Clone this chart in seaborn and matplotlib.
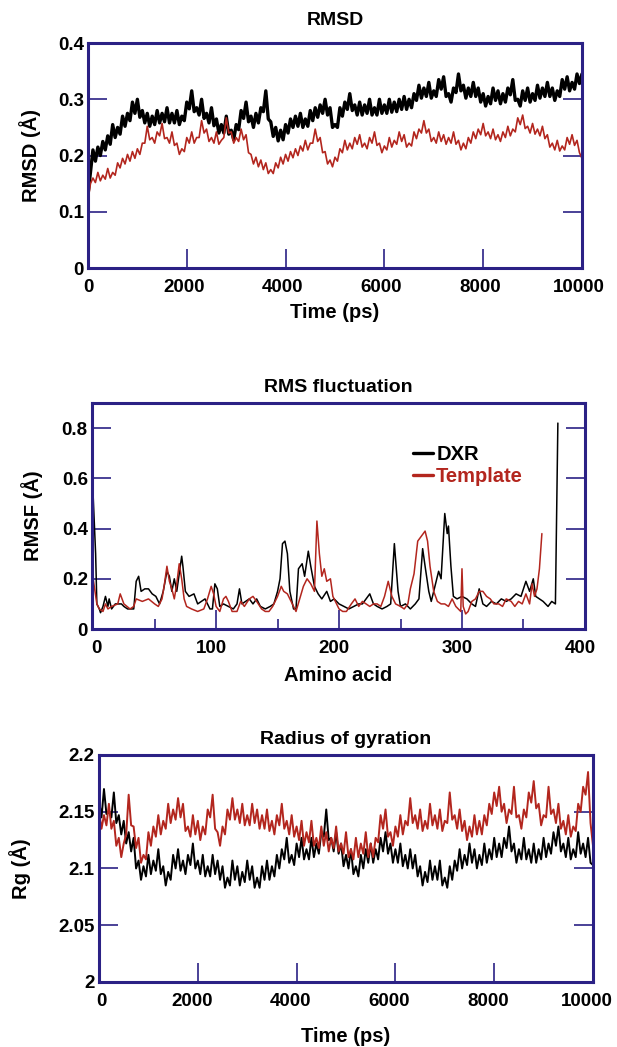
import numpy as np
import pandas as pd
import matplotlib
matplotlib.use("Agg")
import matplotlib.pyplot as plt
import matplotlib.transforms as mtransforms
from matplotlib.ticker import FuncFormatter, MultipleLocator
import seaborn as sns

# ---- time axis for RMSD and Rg (every 50 ps) ----
time_ps = list(range(0, 10001, 50))

# RMSD
rmsd_dxr = [0.13, 0.17, 0.21, 0.19, 0.215, 0.20, 0.225, 0.21, 0.235, 0.22,
            0.255, 0.232, 0.25, 0.238, 0.27, 0.252, 0.275, 0.262, 0.295, 0.275,
            0.30, 0.268, 0.28, 0.258, 0.275, 0.252, 0.27, 0.255, 0.28, 0.258,
            0.275, 0.26, 0.285, 0.258, 0.275, 0.258, 0.28, 0.255, 0.27, 0.262,
            0.295, 0.283, 0.315, 0.278, 0.285, 0.272, 0.30, 0.266, 0.275, 0.258,
            0.285, 0.253, 0.265, 0.24, 0.255, 0.24, 0.27, 0.238, 0.245, 0.228,
            0.255, 0.246, 0.28, 0.266, 0.295, 0.26, 0.27, 0.25, 0.275, 0.258,
            0.285, 0.278, 0.315, 0.265, 0.26, 0.234, 0.25, 0.226, 0.245, 0.228,
            0.255, 0.24, 0.265, 0.25, 0.27, 0.252, 0.275, 0.25, 0.265, 0.252,
            0.28, 0.262, 0.285, 0.268, 0.29, 0.275, 0.30, 0.272, 0.285, 0.25,
            0.255, 0.25, 0.285, 0.27, 0.295, 0.282, 0.31, 0.28, 0.29, 0.272,
            0.295, 0.272, 0.29, 0.275, 0.30, 0.272, 0.285, 0.272, 0.30, 0.275,
            0.29, 0.275, 0.30, 0.277, 0.295, 0.278, 0.30, 0.282, 0.305, 0.282,
            0.30, 0.285, 0.31, 0.298, 0.325, 0.302, 0.32, 0.305, 0.33, 0.302,
            0.315, 0.305, 0.335, 0.318, 0.34, 0.305, 0.31, 0.295, 0.32, 0.312,
            0.345, 0.315, 0.325, 0.302, 0.32, 0.305, 0.33, 0.305, 0.32, 0.295,
            0.31, 0.288, 0.305, 0.292, 0.32, 0.298, 0.315, 0.292, 0.31, 0.295,
            0.32, 0.308, 0.335, 0.298, 0.30, 0.288, 0.315, 0.298, 0.32, 0.295,
            0.31, 0.298, 0.325, 0.302, 0.32, 0.305, 0.33, 0.305, 0.32, 0.298,
            0.315, 0.305, 0.335, 0.318, 0.34, 0.315, 0.33, 0.318, 0.345, 0.328,
            0.345]
rmsd_template = [0.12, 0.15, 0.16, 0.152, 0.17, 0.155, 0.165, 0.158, 0.177, 0.16,
                 0.17, 0.165, 0.187, 0.178, 0.195, 0.185, 0.202, 0.19, 0.207, 0.195,
                 0.212, 0.202, 0.222, 0.222, 0.252, 0.228, 0.232, 0.222, 0.242, 0.235,
                 0.257, 0.23, 0.232, 0.222, 0.242, 0.218, 0.222, 0.202, 0.212, 0.207,
                 0.232, 0.222, 0.242, 0.222, 0.232, 0.232, 0.262, 0.24, 0.247, 0.225,
                 0.232, 0.222, 0.242, 0.22, 0.227, 0.232, 0.267, 0.24, 0.242, 0.222,
                 0.232, 0.225, 0.247, 0.228, 0.237, 0.205, 0.202, 0.185, 0.197, 0.18,
                 0.192, 0.175, 0.187, 0.168, 0.175, 0.168, 0.187, 0.178, 0.197, 0.185,
                 0.202, 0.19, 0.207, 0.196, 0.212, 0.20, 0.217, 0.208, 0.227, 0.21,
                 0.222, 0.222, 0.247, 0.225, 0.232, 0.205, 0.207, 0.185, 0.192, 0.18,
                 0.197, 0.19, 0.212, 0.205, 0.227, 0.21, 0.222, 0.212, 0.232, 0.22,
                 0.237, 0.215, 0.222, 0.212, 0.232, 0.222, 0.242, 0.218, 0.222, 0.205,
                 0.217, 0.21, 0.232, 0.215, 0.227, 0.22, 0.242, 0.225, 0.237, 0.215,
                 0.222, 0.217, 0.242, 0.23, 0.247, 0.24, 0.262, 0.24, 0.247, 0.225,
                 0.232, 0.222, 0.242, 0.225, 0.237, 0.22, 0.232, 0.222, 0.242, 0.22,
                 0.227, 0.21, 0.222, 0.212, 0.232, 0.222, 0.242, 0.23, 0.247, 0.237,
                 0.257, 0.235, 0.242, 0.23, 0.247, 0.228, 0.237, 0.225, 0.242, 0.232,
                 0.252, 0.235, 0.247, 0.242, 0.267, 0.255, 0.272, 0.248, 0.252, 0.24,
                 0.257, 0.238, 0.247, 0.235, 0.252, 0.23, 0.237, 0.215, 0.222, 0.21,
                 0.227, 0.208, 0.217, 0.21, 0.232, 0.22, 0.237, 0.218, 0.227, 0.205,
                 0.195]

# ---- RMSF per residue ----
res_dxr = [0, 2, 3, 5, 6, 8, 10, 12, 13, 15,
           18, 20, 23, 25, 28, 30, 33, 35, 37, 39,
           42, 45, 48, 51, 54, 57, 60, 62, 64, 66,
           68, 70, 72, 73, 75, 78, 82, 85, 88, 91,
           95, 97, 99, 101, 103, 106, 110, 114, 117, 119,
           121, 124, 127, 130, 133, 136, 140, 144, 147, 150,
           152, 154, 156, 158, 160, 163, 165, 167, 170, 172,
           175, 177, 180, 183, 186, 190, 193, 196, 200, 204,
           208, 212, 216, 219, 222, 225, 228, 231, 235, 239,
           242, 245, 248, 250, 254, 258, 262, 265, 268, 270,
           273, 275, 278, 281, 283, 286, 288, 289, 291, 293,
           296, 300, 304, 308, 311, 314, 317, 320, 324, 328,
           332, 336, 340, 344, 348, 352, 355, 358, 360, 363,
           366, 370, 373, 376, 378]
rmsf_dxr = [0.53, 0.3, 0.1, 0.08, 0.065, 0.09, 0.13, 0.09, 0.12, 0.08,
            0.1, 0.1, 0.1, 0.09, 0.08, 0.08, 0.08, 0.19, 0.21, 0.15,
            0.16, 0.16, 0.14, 0.13, 0.1, 0.15, 0.23, 0.21, 0.15, 0.2,
            0.15, 0.22, 0.29, 0.25, 0.15, 0.13, 0.14, 0.1, 0.11, 0.12,
            0.08, 0.08, 0.18, 0.16, 0.09, 0.1, 0.09, 0.08, 0.1, 0.16,
            0.1, 0.11, 0.12, 0.1, 0.12, 0.09, 0.08, 0.09, 0.1, 0.15,
            0.2, 0.34, 0.35, 0.3, 0.15, 0.08, 0.08, 0.24, 0.26, 0.21,
            0.31, 0.25, 0.17, 0.14, 0.12, 0.15, 0.11, 0.12, 0.1, 0.09,
            0.08, 0.09, 0.1, 0.1, 0.12, 0.14, 0.1, 0.09, 0.08, 0.09,
            0.1, 0.34, 0.15, 0.09, 0.1, 0.08, 0.1, 0.12, 0.32, 0.25,
            0.15, 0.11, 0.17, 0.23, 0.2, 0.46, 0.38, 0.41, 0.25, 0.13,
            0.12, 0.13, 0.12, 0.1, 0.09, 0.16, 0.1, 0.09, 0.11, 0.1,
            0.12, 0.11, 0.12, 0.14, 0.13, 0.19, 0.15, 0.2, 0.13, 0.12,
            0.11, 0.09, 0.11, 0.1, 0.82]
res_template = [0, 3, 5, 8, 10, 12, 15, 20, 22, 25,
                30, 33, 35, 40, 45, 50, 53, 56, 58, 60,
                62, 64, 66, 68, 70, 72, 74, 76, 80, 85,
                90, 93, 96, 98, 100, 103, 106, 108, 110, 113,
                117, 120, 123, 127, 130, 133, 137, 140, 143, 146,
                150, 153, 155, 158, 162, 165, 168, 171, 174, 177,
                180, 182, 184, 186, 188, 190, 193, 195, 198, 200,
                203, 206, 210, 213, 216, 219, 222, 225, 228, 231,
                234, 237, 240, 243, 246, 250, 253, 256, 258, 261,
                264, 267, 270, 272, 274, 277, 280, 283, 286, 289,
                292, 295, 297, 299, 300, 301, 303, 305, 308, 311,
                314, 317, 320, 323, 326, 330, 333, 336, 340, 343,
                346, 349, 352, 355, 357, 359, 361, 363, 365]
rmsf_template = [0.2, 0.1, 0.08, 0.07, 0.1, 0.08, 0.09, 0.1, 0.14, 0.1,
                 0.08, 0.09, 0.12, 0.11, 0.12, 0.1, 0.09, 0.12, 0.18, 0.25,
                 0.19, 0.16, 0.12, 0.18, 0.26, 0.2, 0.12, 0.09, 0.08, 0.07,
                 0.08, 0.12, 0.17, 0.14, 0.09, 0.07, 0.12, 0.13, 0.11, 0.07,
                 0.07, 0.11, 0.09, 0.12, 0.13, 0.11, 0.08, 0.07, 0.07, 0.09,
                 0.13, 0.17, 0.15, 0.14, 0.1, 0.07, 0.12, 0.17, 0.2, 0.18,
                 0.15, 0.43, 0.3, 0.21, 0.24, 0.19, 0.2, 0.13, 0.1, 0.08,
                 0.07, 0.07, 0.1, 0.12, 0.09, 0.11, 0.1, 0.09, 0.1, 0.1,
                 0.09, 0.13, 0.19, 0.13, 0.1, 0.09, 0.08, 0.1, 0.16, 0.22,
                 0.35, 0.37, 0.39, 0.35, 0.25, 0.15, 0.11, 0.1, 0.1, 0.09,
                 0.12, 0.09, 0.08, 0.07, 0.24, 0.09, 0.06, 0.07, 0.11, 0.12,
                 0.15, 0.15, 0.13, 0.12, 0.1, 0.1, 0.09, 0.12, 0.11, 0.09,
                 0.11, 0.1, 0.14, 0.1, 0.18, 0.13, 0.16, 0.24, 0.38]

# ---- Radius of gyration ----
rg_dxr = [2.16, 2.145, 2.17, 2.148, 2.15, 2.145, 2.167, 2.14, 2.147, 2.13,
          2.142, 2.122, 2.132, 2.115, 2.127, 2.10, 2.107, 2.09, 2.102, 2.093,
          2.112, 2.095, 2.107, 2.098, 2.117, 2.095, 2.102, 2.085, 2.097, 2.09,
          2.112, 2.10, 2.117, 2.098, 2.107, 2.095, 2.112, 2.103, 2.122, 2.10,
          2.107, 2.095, 2.112, 2.093, 2.102, 2.093, 2.112, 2.095, 2.107, 2.09,
          2.102, 2.083, 2.092, 2.085, 2.107, 2.09, 2.102, 2.085, 2.097, 2.088,
          2.107, 2.09, 2.102, 2.083, 2.092, 2.083, 2.102, 2.09, 2.107, 2.09,
          2.102, 2.093, 2.112, 2.10, 2.117, 2.108, 2.127, 2.105, 2.112, 2.103,
          2.122, 2.11, 2.127, 2.108, 2.117, 2.108, 2.127, 2.11, 2.122, 2.113,
          2.132, 2.128, 2.152, 2.125, 2.127, 2.115, 2.132, 2.113, 2.122, 2.102,
          2.112, 2.10, 2.117, 2.095, 2.102, 2.093, 2.112, 2.10, 2.117, 2.105,
          2.122, 2.105, 2.117, 2.108, 2.127, 2.115, 2.132, 2.113, 2.122, 2.105,
          2.117, 2.105, 2.122, 2.102, 2.112, 2.10, 2.117, 2.10, 2.112, 2.093,
          2.102, 2.085, 2.097, 2.088, 2.107, 2.09, 2.102, 2.09, 2.107, 2.085,
          2.092, 2.083, 2.102, 2.09, 2.107, 2.098, 2.117, 2.10, 2.112, 2.103,
          2.122, 2.105, 2.117, 2.10, 2.112, 2.103, 2.122, 2.105, 2.117, 2.108,
          2.127, 2.11, 2.122, 2.11, 2.127, 2.118, 2.137, 2.115, 2.122, 2.105,
          2.117, 2.108, 2.127, 2.108, 2.117, 2.105, 2.122, 2.105, 2.117, 2.108,
          2.127, 2.11, 2.122, 2.113, 2.132, 2.12, 2.137, 2.115, 2.122, 2.11,
          2.127, 2.108, 2.117, 2.11, 2.132, 2.113, 2.122, 2.11, 2.127, 2.105,
          2.103]
rg_template = [2.15, 2.135, 2.147, 2.138, 2.157, 2.135, 2.142, 2.12, 2.127, 2.11,
               2.122, 2.13, 2.165, 2.138, 2.137, 2.118, 2.127, 2.105, 2.112, 2.108,
               2.132, 2.12, 2.137, 2.128, 2.147, 2.13, 2.142, 2.135, 2.157, 2.14,
               2.152, 2.143, 2.162, 2.145, 2.157, 2.133, 2.137, 2.128, 2.147, 2.13,
               2.142, 2.125, 2.137, 2.13, 2.152, 2.145, 2.165, 2.135, 2.132, 2.12,
               2.137, 2.13, 2.152, 2.143, 2.162, 2.143, 2.152, 2.14, 2.157, 2.138,
               2.147, 2.138, 2.157, 2.14, 2.152, 2.135, 2.147, 2.135, 2.152, 2.133,
               2.142, 2.13, 2.147, 2.138, 2.157, 2.135, 2.142, 2.13, 2.147, 2.128,
               2.137, 2.125, 2.142, 2.12, 2.132, 2.123, 2.142, 2.12, 2.127, 2.118,
               2.137, 2.12, 2.132, 2.115, 2.127, 2.118, 2.137, 2.115, 2.122, 2.113,
               2.132, 2.11, 2.117, 2.108, 2.127, 2.11, 2.122, 2.113, 2.132, 2.11,
               2.122, 2.11, 2.127, 2.123, 2.147, 2.135, 2.152, 2.128, 2.132, 2.12,
               2.137, 2.128, 2.147, 2.13, 2.142, 2.138, 2.162, 2.14, 2.147, 2.135,
               2.152, 2.133, 2.142, 2.135, 2.157, 2.138, 2.147, 2.135, 2.152, 2.133,
               2.142, 2.14, 2.167, 2.143, 2.147, 2.135, 2.152, 2.133, 2.142, 2.125,
               2.137, 2.128, 2.147, 2.13, 2.142, 2.13, 2.147, 2.138, 2.157, 2.148,
               2.167, 2.155, 2.172, 2.15, 2.157, 2.14, 2.152, 2.148, 2.172, 2.145,
               2.147, 2.135, 2.152, 2.145, 2.167, 2.158, 2.177, 2.153, 2.157, 2.138,
               2.147, 2.145, 2.172, 2.148, 2.152, 2.14, 2.157, 2.135, 2.142, 2.13,
               2.147, 2.128, 2.137, 2.133, 2.157, 2.15, 2.172, 2.165, 2.185, 2.14,
               2.12]

BLACK = "black"
RED = "#b3261e"
FRAME = "#2b2185"
LIGHT_TICK = "#7a6bc8"

sns.set_theme(style="white")
plt.rcParams["font.family"] = ["Liberation Sans", "DejaVu Sans"]
plt.rcParams["font.weight"] = "bold"
plt.rcParams["text.color"] = "black"
plt.rcParams["axes.labelcolor"] = "black"

fmt = FuncFormatter(lambda v, p: f"{v:g}")


def style_axes(ax, ytick_colors, xshift_px, first_shift_px=0):
    for sp in ax.spines.values():
        sp.set_color(FRAME)
        sp.set_linewidth(2.2)
    ax.tick_params(axis="both", direction="in", labelsize=13.5, labelcolor="black",
                   color=FRAME, width=1.2, length=14)
    ax.tick_params(axis="y", left=True, right=True, pad=3)
    ax.tick_params(axis="x", bottom=True, top=False, pad=8)
    ax.yaxis.set_major_formatter(fmt)
    ax.xaxis.set_major_formatter(fmt)
    for t, c in zip(ax.yaxis.get_major_ticks(), ytick_colors):
        t.tick1line.set_color(c)
        t.tick2line.set_color(c)
    # labels sit a little off their tick marks in the source figure
    for i, lab in enumerate(ax.get_xticklabels()):
        dx = first_shift_px if i == 0 else xshift_px
        shift = mtransforms.ScaledTranslation(dx / 100, 0, ax.figure.dpi_scale_trans)
        lab.set_transform(lab.get_transform() + shift)
    for lab in ax.get_xticklabels() + ax.get_yticklabels():
        lab.set_fontweight("bold")
    ax.grid(False)


fig = plt.figure(figsize=(6.17, 10.47), dpi=100)

# ---- panel 1: RMSD ----
ax1 = fig.add_axes([0.1426, 0.744, 0.8006, 0.2149])
df1 = pd.DataFrame({"t": time_ps, "dxr": rmsd_dxr, "tmp": rmsd_template})
sns.lineplot(data=df1, x="t", y="dxr", color=BLACK, linewidth=2.4, ax=ax1)
sns.lineplot(data=df1, x="t", y="tmp", color=RED, linewidth=1.2, ax=ax1)
ax1.set_xlim(0, 10000)
ax1.set_ylim(0, 0.4)
ax1.set_xticks(range(0, 10001, 2000))
ax1.set_yticks([0, 0.1, 0.2, 0.3, 0.4])
style_axes(ax1, [FRAME, LIGHT_TICK, LIGHT_TICK, LIGHT_TICK, FRAME], -3, 0)
ax1.set_title("RMSD", fontsize=14, fontweight="bold", pad=13)
ax1.set_xlabel("Time (ps)", fontsize=14.5, fontweight="bold")
ax1.set_ylabel("RMSD (Å)", fontsize=14.5, fontweight="bold")
ax1.xaxis.set_label_coords(0.5, -0.196)
ax1.yaxis.set_label_coords(-0.117, 0.5)

# ---- panel 2: RMSF ----
ax2 = fig.add_axes([0.149, 0.3992, 0.799, 0.2159])
df_d = pd.DataFrame({"res": res_dxr, "rmsf": rmsf_dxr})
df_t = pd.DataFrame({"res": res_template, "rmsf": rmsf_template})
sns.lineplot(data=df_d, x="res", y="rmsf", color=BLACK, linewidth=1.1, ax=ax2, label="DXR")
sns.lineplot(data=df_t, x="res", y="rmsf", color=RED, linewidth=1.1, ax=ax2, label="Template")
ax2.set_xlim(-1, 399)
ax2.set_ylim(0, 0.9)
ax2.set_xticks(range(0, 401, 100))
ax2.xaxis.set_minor_locator(MultipleLocator(50))
ax2.set_yticks([0, 0.2, 0.4, 0.6, 0.8])
style_axes(ax2, [FRAME] * 5, -5, 3)
ax2.tick_params(axis="x", which="minor", direction="in", length=7, width=1.2,
                color=FRAME, bottom=True, top=False)
ax2.set_title("RMS fluctuation", fontsize=14, fontweight="bold", pad=8)
ax2.set_xlabel("Amino acid", fontsize=14.5, fontweight="bold")
ax2.set_ylabel("RMSF (Å)", fontsize=14.5, fontweight="bold")
ax2.xaxis.set_label_coords(0.5, -0.204)
ax2.yaxis.set_label_coords(-0.122, 0.5)
leg = ax2.legend(loc="upper left", bbox_to_anchor=(0.635, 0.85), frameon=False,
                 handlelength=1.0, handletextpad=0.15, labelspacing=0.15,
                 borderaxespad=0, prop={"size": 14.5, "weight": "bold"})
for txt, c in zip(leg.get_texts(), [BLACK, RED]):
    txt.set_color(c)
for h in leg.get_lines():
    h.set_linewidth(2.4)

# ---- panel 3: radius of gyration ----
ax3 = fig.add_axes([0.1605, 0.0621, 0.8006, 0.2168])
df3 = pd.DataFrame({"t": time_ps, "dxr": rg_dxr, "tmp": rg_template})
sns.lineplot(data=df3, x="t", y="dxr", color=BLACK, linewidth=1.4, ax=ax3)
sns.lineplot(data=df3, x="t", y="tmp", color=RED, linewidth=1.4, ax=ax3)
ax3.set_xlim(0, 10000)
ax3.set_ylim(2.0, 2.2)
ax3.set_xticks(range(0, 10001, 2000))
ax3.set_yticks([2.0, 2.05, 2.1, 2.15, 2.2])
style_axes(ax3, [FRAME, FRAME, LIGHT_TICK, LIGHT_TICK, FRAME], -6, 2)
ax3.set_title("Radius of gyration", fontsize=14, fontweight="bold", pad=8)
ax3.set_xlabel("Time (ps)", fontsize=14.5, fontweight="bold")
ax3.set_ylabel("Rg (Å)", fontsize=14.5, fontweight="bold")
ax3.xaxis.set_label_coords(0.5, -0.24)
ax3.yaxis.set_label_coords(-0.16, 0.5)

for ax in (ax1, ax2, ax3):
    ax.xaxis.label.set_va("center")
    ax.yaxis.label.set_va("center")

fig.savefig("out.png", dpi=100, facecolor="white")
